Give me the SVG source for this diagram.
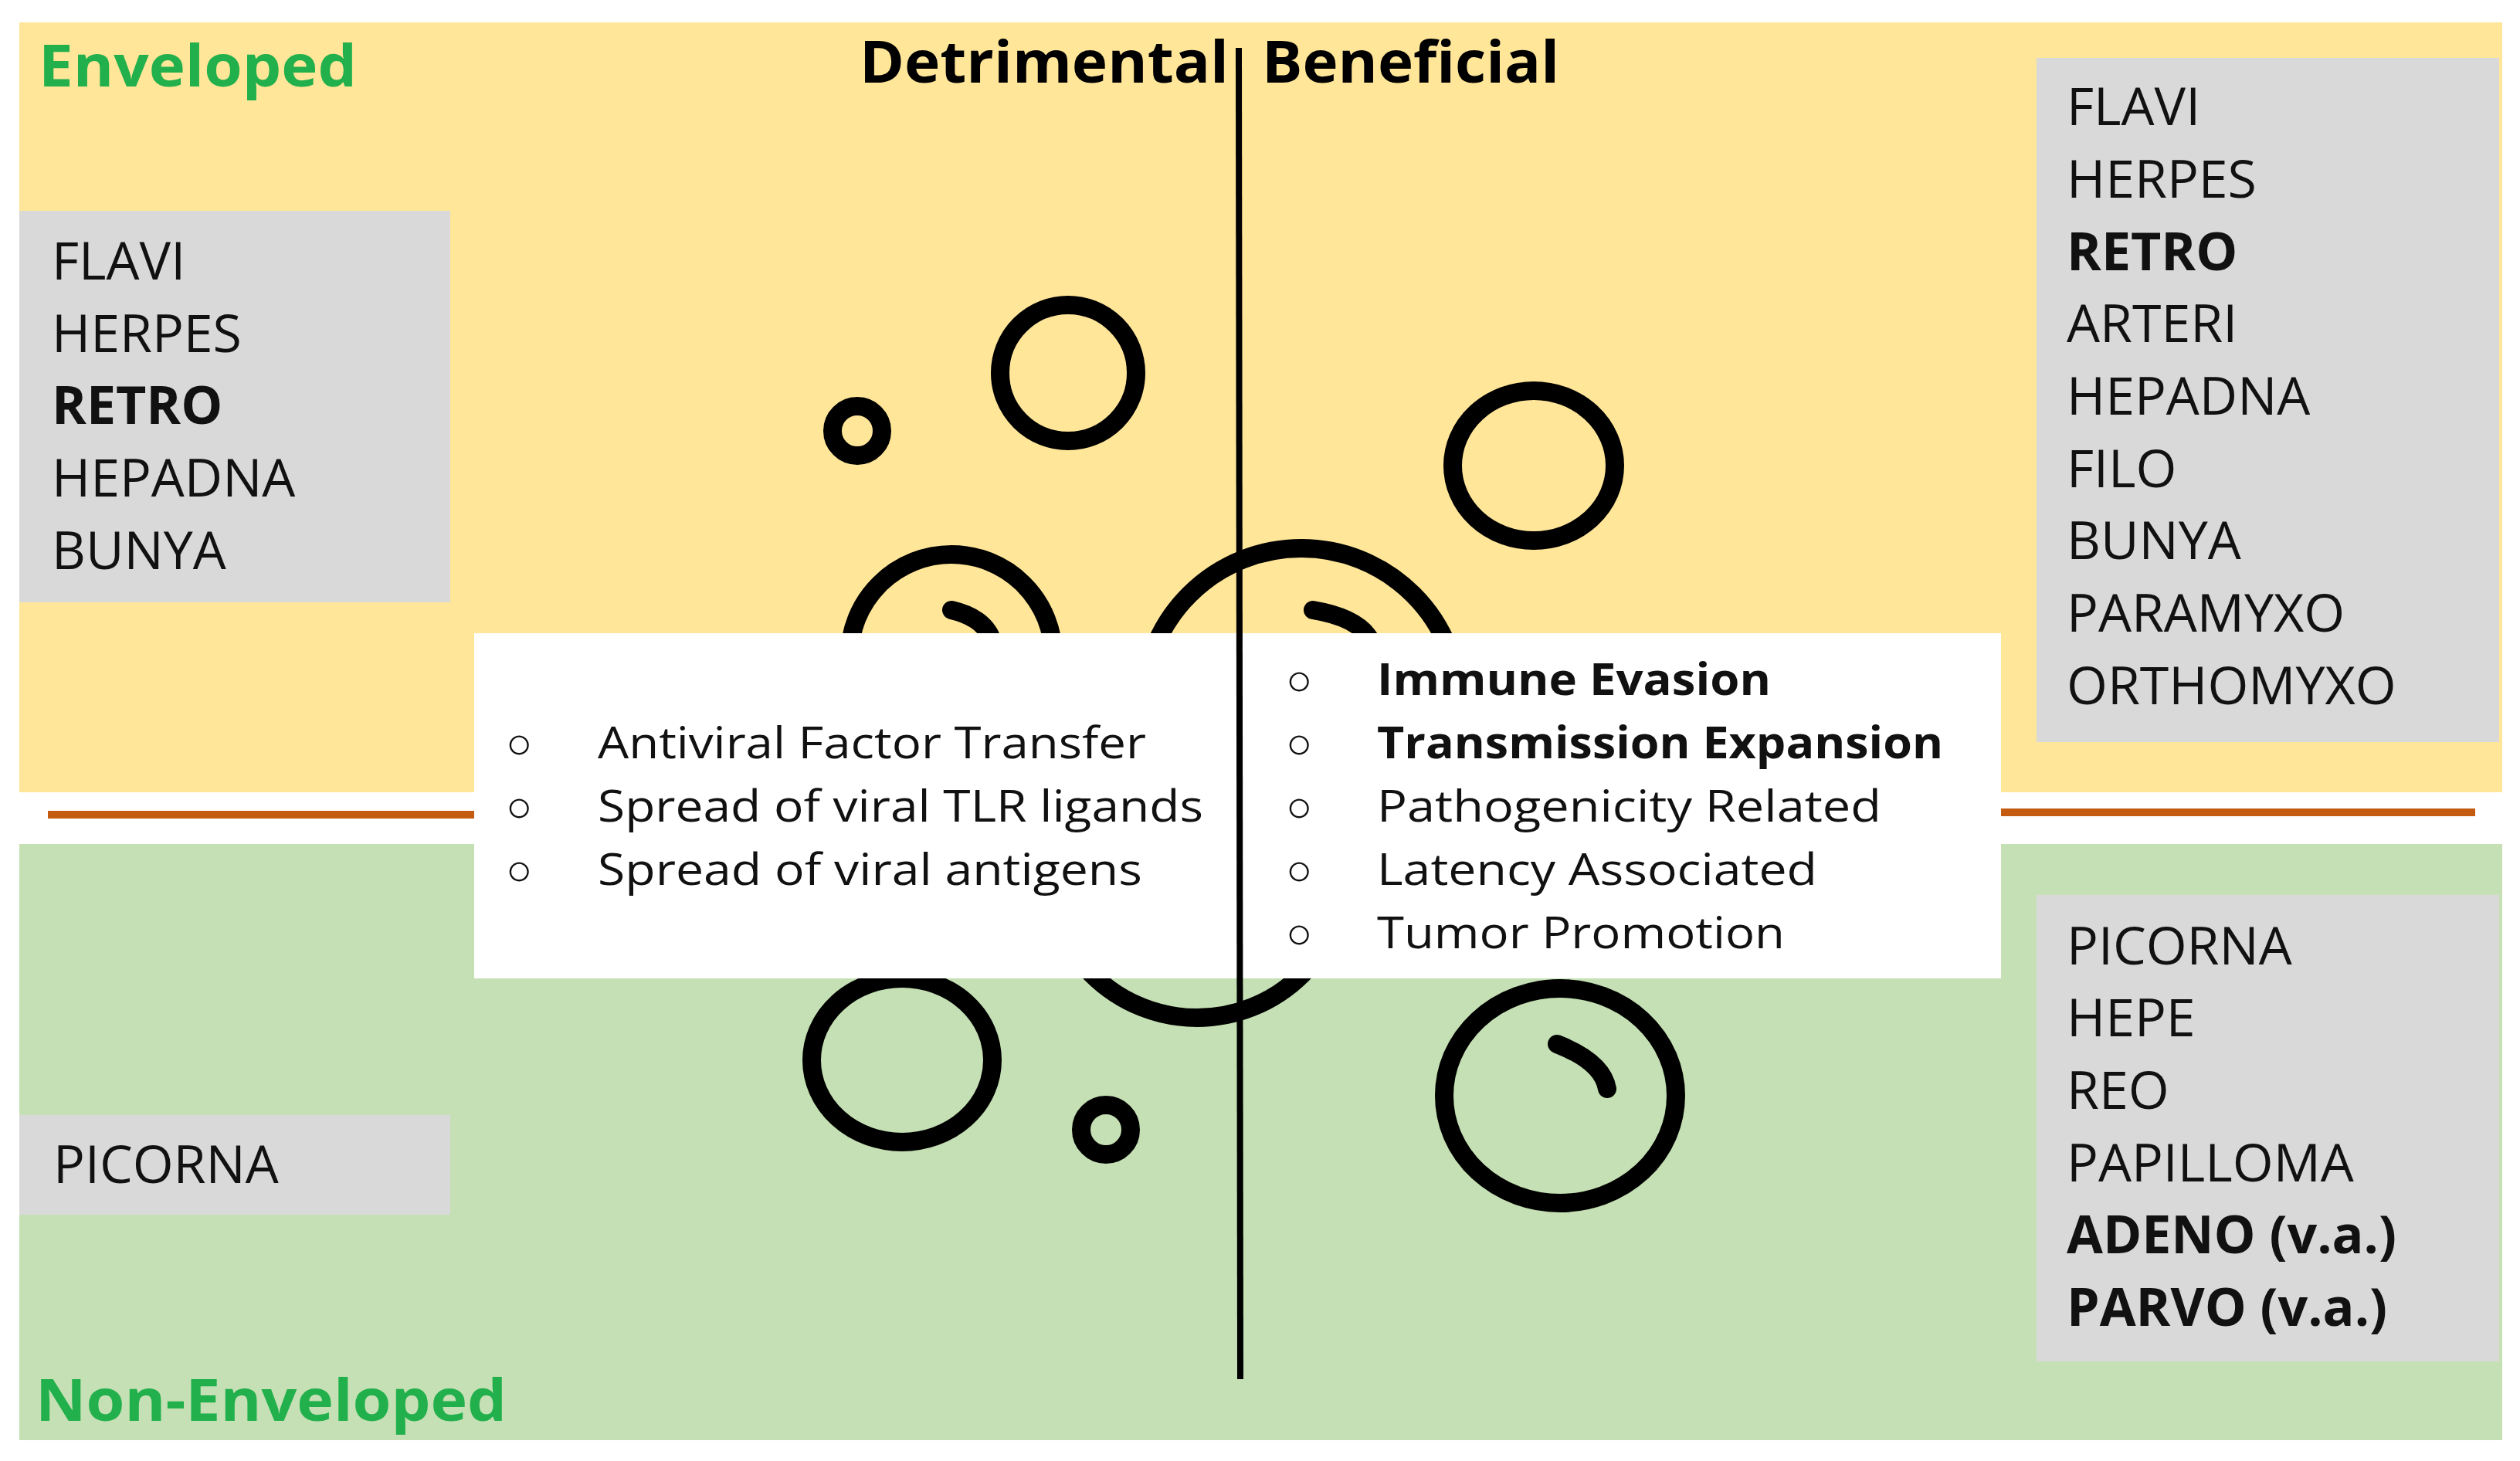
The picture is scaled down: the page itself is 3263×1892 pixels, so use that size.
<svg xmlns="http://www.w3.org/2000/svg" width="3263" height="1892" viewBox="0 0 3263 1892">
<style>
.t{font-family:"Open Sans","Liberation Sans",sans-serif;font-size:68px;fill:#111}
.b{font-weight:bold}
.h{font-family:"Open Sans","Liberation Sans",sans-serif;font-size:76px;font-weight:bold}
.g{fill:#d9d9d9}
.c{fill:none;stroke:#000;stroke-width:24;stroke-linecap:round}
.l{font-family:"Open Sans","Liberation Sans",sans-serif;font-size:57px;fill:#111}
</style>
<rect width="3263" height="1892" fill="#fff"/>
<rect x="25" y="29" width="3215" height="997" fill="#ffe699"/>
<rect x="25" y="1093" width="3215" height="772" fill="#c5e0b4"/>
<g id="viruses">
<circle class="c" cx="1110" cy="558" r="32" stroke-width="28"/>
<circle class="c" cx="1383" cy="483" r="88"/>
<ellipse class="c" cx="1986" cy="603" rx="105" ry="97"/>
<circle class="c" cx="1232" cy="850" r="132"/>
<path class="c" d="M1232 790 Q1275 800 1285 830"/>
<circle class="c" cx="1685" cy="915" r="205"/>
<path class="c" d="M1700 790 Q1760 800 1775 830"/>
<circle class="c" cx="1550" cy="1125" r="193"/>
<ellipse class="c" cx="1168" cy="1373" rx="117" ry="106"/>
<circle class="c" cx="1432" cy="1463" r="32" stroke-width="28"/>
<ellipse class="c" cx="2020" cy="1419" rx="150" ry="139"/>
<path class="c" d="M2016 1352 Q2075 1375 2081 1410"/>
</g>
<line x1="62" y1="1055" x2="614" y2="1055" stroke="#c55a11" stroke-width="10"/>
<line x1="2591" y1="1052" x2="3205" y2="1052" stroke="#c55a11" stroke-width="10"/>
<rect x="614" y="820" width="1977" height="447" fill="#fff"/>
<g id="divider"><line x1="1604" y1="62" x2="1606" y2="1786" stroke="#000" stroke-width="8"/></g>
<text class="h" x="50" y="112" fill="#22b04c" textLength="412" lengthAdjust="spacingAndGlyphs">Enveloped</text>
<text class="h" x="46" y="1840" fill="#22b04c" textLength="610" lengthAdjust="spacingAndGlyphs">Non-Enveloped</text>
<text class="h" x="1113" y="107" fill="#000" textLength="478" lengthAdjust="spacingAndGlyphs">Detrimental</text>
<text class="h" x="1634" y="107" fill="#000" textLength="385" lengthAdjust="spacingAndGlyphs">Beneficial</text>
<g id="left-env">
<rect class="g" x="25" y="273" width="558" height="507"/>
<text class="t" x="67" y="362">FLAVI</text>
<text class="t" x="67" y="456">HERPES</text>
<text class="t b" x="67" y="549">RETRO</text>
<text class="t" x="67" y="643">HEPADNA</text>
<text class="t" x="67" y="737">BUNYA</text>
</g>
<g id="left-nonenv">
<rect class="g" x="25" y="1444" width="558" height="129"/>
<text class="t" x="69" y="1532">PICORNA</text>
</g>
<g id="right-env">
<rect class="g" x="2637" y="75" width="599" height="886"/>
<text class="t" x="2676" y="162">FLAVI</text>
<text class="t" x="2676" y="256">HERPES</text>
<text class="t b" x="2676" y="350">RETRO</text>
<text class="t" x="2676" y="443">ARTERI</text>
<text class="t" x="2676" y="537">HEPADNA</text>
<text class="t" x="2676" y="631">FILO</text>
<text class="t" x="2676" y="724">BUNYA</text>
<text class="t" x="2676" y="818">PARAMYXO</text>
<text class="t" x="2676" y="912">ORTHOMYXO</text>
</g>
<g id="right-nonenv">
<rect class="g" x="2637" y="1159" width="599" height="604"/>
<text class="t" x="2676" y="1249">PICORNA</text>
<text class="t" x="2676" y="1342">HEPE</text>
<text class="t" x="2676" y="1436">REO</text>
<text class="t" x="2676" y="1530">PAPILLOMA</text>
<text class="t b" x="2676" y="1623">ADENO (v.a.)</text>
<text class="t b" x="2676" y="1717">PARVO (v.a.)</text>
</g>
<g id="detrimental-list">
<text class="l" x="655" y="982">○</text><text class="l" x="774" y="982" textLength="710" lengthAdjust="spacingAndGlyphs">Antiviral Factor Transfer</text>
<text class="l" x="655" y="1064">○</text><text class="l" x="774" y="1064" textLength="784" lengthAdjust="spacingAndGlyphs">Spread of viral TLR ligands</text>
<text class="l" x="655" y="1146">○</text><text class="l" x="774" y="1146" textLength="705" lengthAdjust="spacingAndGlyphs">Spread of viral antigens</text>
</g>
<g id="beneficial-list">
<text class="l" x="1665" y="900">○</text><text class="l b" x="1783" y="900" textLength="510" lengthAdjust="spacingAndGlyphs">Immune Evasion</text>
<text class="l" x="1665" y="982">○</text><text class="l b" x="1783" y="982" textLength="733" lengthAdjust="spacingAndGlyphs">Transmission Expansion</text>
<text class="l" x="1665" y="1064">○</text><text class="l" x="1783" y="1064" textLength="653" lengthAdjust="spacingAndGlyphs">Pathogenicity Related</text>
<text class="l" x="1665" y="1146">○</text><text class="l" x="1783" y="1146" textLength="570" lengthAdjust="spacingAndGlyphs">Latency Associated</text>
<text class="l" x="1665" y="1228">○</text><text class="l" x="1783" y="1228" textLength="528" lengthAdjust="spacingAndGlyphs">Tumor Promotion</text>
</g>
</svg>
